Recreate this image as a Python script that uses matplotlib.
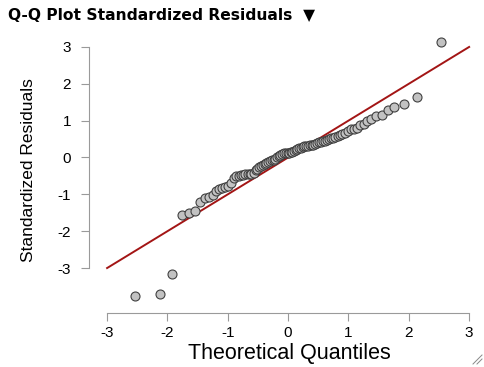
import numpy as np
import matplotlib
matplotlib.use("Agg")
import matplotlib.pyplot as plt
from matplotlib.lines import Line2D

plt.rcParams['font.family'] = ['Liberation Sans', 'DejaVu Sans']
plt.rcParams['axes.unicode_minus'] = False

theo = [-2.54, -2.13, -1.92, -1.76, -1.65, -1.55, -1.46, -1.38, -1.31, -1.25,
        -1.19, -1.14, -1.09, -1.04, -0.99, -0.95, -0.90, -0.86, -0.82, -0.78,
        -0.75, -0.71, -0.67, -0.64, -0.61, -0.57, -0.54, -0.51, -0.48, -0.45,
        -0.42, -0.39, -0.36, -0.33, -0.30, -0.27, -0.24, -0.21, -0.18, -0.15,
        -0.13, -0.10, -0.07, -0.04, -0.01,
        0.01, 0.04, 0.07, 0.10, 0.13, 0.15, 0.18, 0.21, 0.24, 0.27,
        0.30, 0.33, 0.36, 0.39, 0.42, 0.45, 0.48, 0.51, 0.54, 0.57,
        0.61, 0.64, 0.67, 0.71, 0.75, 0.78, 0.82, 0.86, 0.90, 0.95,
        0.99, 1.04, 1.09, 1.14, 1.19, 1.25, 1.31, 1.38, 1.46, 1.55,
        1.65, 1.76, 1.92, 2.13, 2.54]

# standardized residuals (sorted)
resid = [-3.76, -3.71, -3.17, -1.56, -1.51, -1.46, -1.22, -1.10, -1.07, -1.01,
         -0.90, -0.85, -0.83, -0.80, -0.76, -0.68, -0.56, -0.51, -0.49, -0.48,
         -0.47, -0.46, -0.45, -0.45, -0.44, -0.42, -0.35, -0.31, -0.27, -0.24,
         -0.21, -0.18, -0.15, -0.13, -0.10, -0.08, -0.06, -0.03, 0.00, 0.04,
         0.08, 0.10, 0.11, 0.12, 0.12,
         0.13, 0.14, 0.16, 0.17, 0.19, 0.22, 0.25, 0.27, 0.29, 0.30,
         0.31, 0.32, 0.33, 0.34, 0.35, 0.37, 0.39, 0.41, 0.43, 0.45,
         0.46, 0.48, 0.50, 0.52, 0.53, 0.55, 0.58, 0.60, 0.63, 0.66,
         0.71, 0.76, 0.78, 0.80, 0.87, 0.92, 0.98, 1.05, 1.12, 1.16,
         1.29, 1.37, 1.45, 1.64, 3.14]

ticks = [-3, -2, -1, 0, 1, 2, 3]
ref_line = [-3, 3]

W, H = 485, 367
fig = plt.figure(figsize=(W/100, H/100), dpi=100)
ax = fig.add_axes([89/W, 1-313/H, (480-89)/W, (313-30)/H])

ax.plot(ref_line, ref_line, color="#a31515", lw=1.4, zorder=1)
ax.scatter(theo, resid, s=42, facecolor="#c2c2c2", edgecolor="#404040",
           linewidths=0.8, zorder=2)

ax.set_xlim(-3.30, 3.18)
ax.set_ylim(-4.22, 3.46)
ax.set_xticks(ticks)
ax.set_yticks(ticks)
for s in ["top", "right"]:
    ax.spines[s].set_visible(False)
for s in ["left", "bottom"]:
    ax.spines[s].set_bounds(-3, 3)
    ax.spines[s].set_color("#9a9a9a")
    ax.spines[s].set_linewidth(0.8)
ax.tick_params(colors="#9a9a9a", labelcolor="black", labelsize=11,
               length=6, width=0.8)
ax.tick_params(axis="y", pad=7)
ax.tick_params(axis="x", pad=3.5)

ax.set_xlabel("Theoretical Quantiles", fontsize=15.5, va="center")
ax.xaxis.set_label_coords((289-89)/(480-89), -(354-313)/(313-30))
ax.set_ylabel("Standardized Residuals", fontsize=12.5, va="center")
ax.yaxis.set_label_coords(-(89-29)/(480-89), (313-170)/(313-30))

fig.text(8/W, 1-16/H, "Q-Q Plot Standardized Residuals  \u25BC",
         fontsize=11.2, fontweight="bold", va="center", ha="left",
         family=['DejaVu Sans'])

# resize grip in the corner
for d in [0, 4]:
    fig.add_artist(Line2D([(473+d)/W, 482/W], [1-364/H, 1-(355+d)/H],
                          color="#888888", lw=0.7))

fig.savefig("out.png", dpi=100)
